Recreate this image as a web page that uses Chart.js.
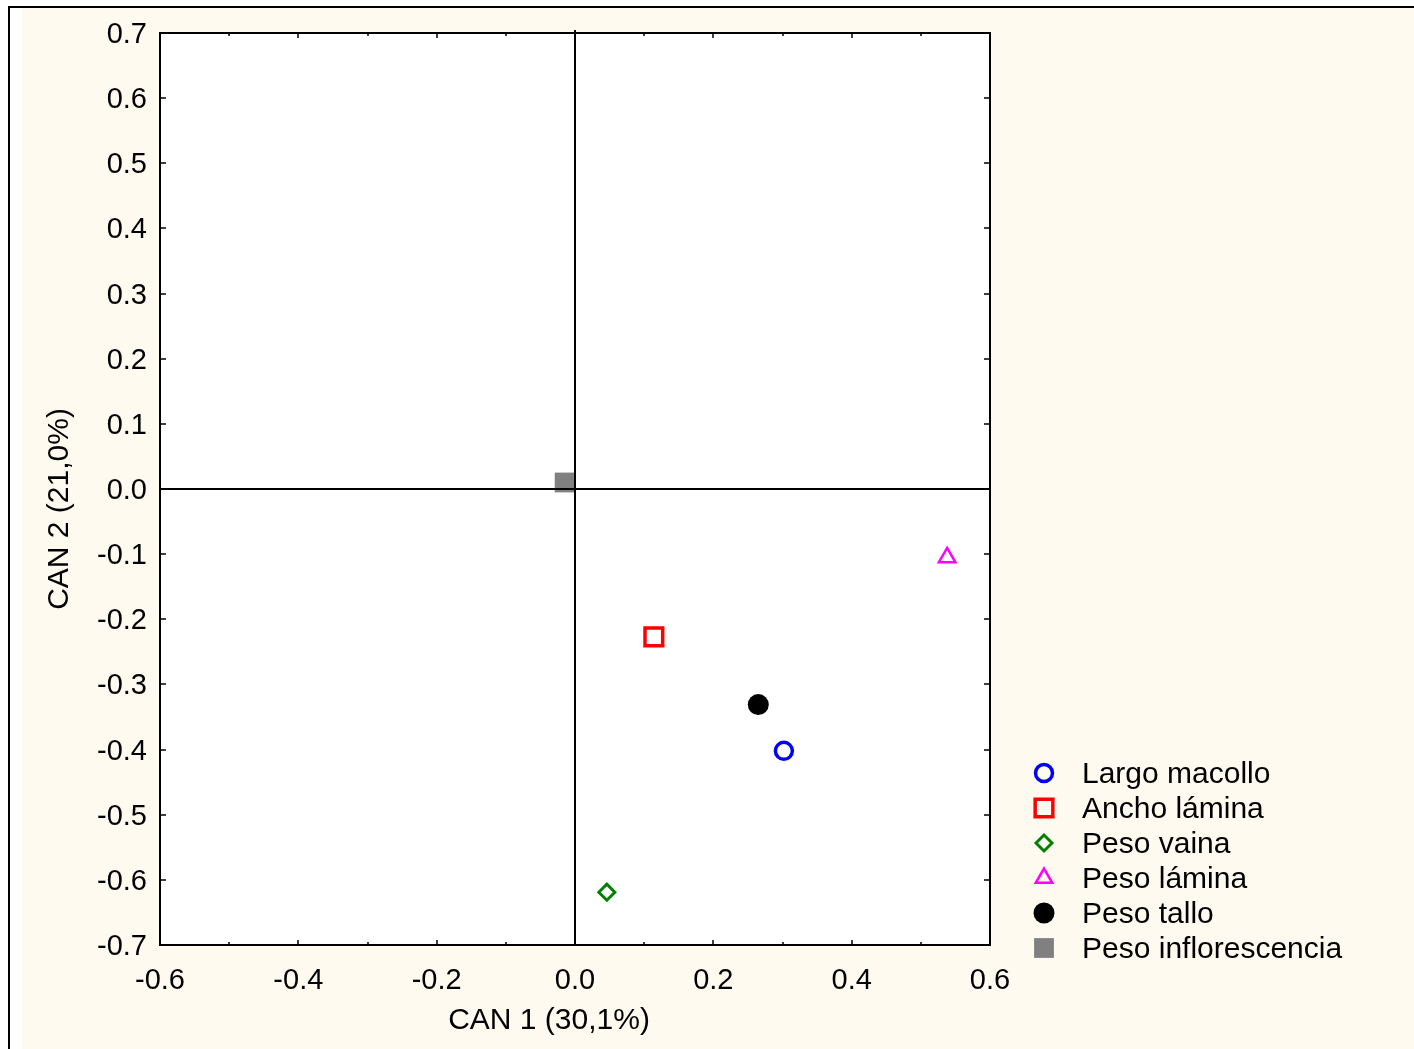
<!DOCTYPE html>
<html>
<head>
<meta charset="utf-8">
<script src="https://cdn.jsdelivr.net/npm/chart.js@4/dist/chart.umd.min.js"></script>
<style>
  html, body { margin: 0; padding: 0; background: #ffffff; }
  #wrap { width: 1414px; height: 1049px; }
</style>
</head>
<body>
<div id="wrap"><canvas id="canChart" width="1414" height="1049"></canvas></div>
<script>
// variables and their canonical scores (CAN 1, CAN 2)
const seriesNames = ['Largo macollo', 'Ancho lámina', 'Peso vaina', 'Peso lámina', 'Peso tallo', 'Peso inflorescencia'];
const can1Values = [0.302, 0.114, 0.046, 0.538, 0.265, -0.015];
const can2Values = [-0.402, -0.227, -0.619, -0.105, -0.331, 0.010];
const xTitle = 'CAN 1 (30,1%)';
const yTitle = 'CAN 2 (21,0%)';

// marker look for each variable
const markerStyles = [
    { style: 'circle',   radius: 8.5,  fill: 'rgba(0,0,0,0)', stroke: '#0000ff', width: 3.5 },
    { style: 'rect',     radius: 12.5, fill: 'rgba(0,0,0,0)', stroke: '#ff0000', width: 3.5 },
    { style: 'rectRot',  radius: 8,    fill: 'rgba(0,0,0,0)', stroke: '#008000', width: 3 },
    { style: 'triangle', radius: 9.5,  fill: 'rgba(0,0,0,0)', stroke: '#ff00ff', width: 2.5 },
    { style: 'circle',   radius: 10.5, fill: '#000000',       stroke: '#000000', width: 0 },
    { style: 'rect',     radius: 14,   fill: '#808080',       stroke: '#808080', width: 0 }
];

const fontFamily = '"Liberation Sans", Arial, sans-serif';
Chart.defaults.font.family = fontFamily;
Chart.defaults.color = '#000000';

const datasets = seriesNames.map((name, i) => ({
    label: name,
    data: [{ x: can1Values[i], y: can2Values[i] }],
    pointStyle: markerStyles[i].style,
    pointRadius: markerStyles[i].radius,
    pointHoverRadius: markerStyles[i].radius,
    backgroundColor: markerStyles[i].fill,
    borderColor: markerStyles[i].stroke,
    pointBorderWidth: markerStyles[i].width,
    borderWidth: markerStyles[i].width
}));

// page background, outer frame, plot box, inward ticks, zero lines, titles, legend
const decorPlugin = {
    id: 'decor',
    beforeDraw(chart) {
        const ctx = chart.ctx;
        const a = chart.chartArea;
        ctx.save();
        ctx.fillStyle = '#ffffff';
        ctx.fillRect(0, 0, chart.width, chart.height);
        ctx.fillStyle = '#fefaef';
        ctx.fillRect(22, 8, chart.width - 22, chart.height - 8);
        ctx.fillStyle = '#000000';
        ctx.fillRect(8, 6, chart.width - 8, 2);
        ctx.fillRect(8, 6, 2, chart.height - 6);
        ctx.fillStyle = '#ffffff';
        ctx.fillRect(a.left, a.top, a.right - a.left, a.bottom - a.top);
        ctx.restore();
    },
    afterDatasetsDraw(chart) {
        const ctx = chart.ctx;
        const a = chart.chartArea;
        const xs = chart.scales.x, ys = chart.scales.y;
        ctx.save();
        ctx.strokeStyle = '#000000';
        ctx.lineWidth = 2;
        // zero lines
        const x0 = Math.round(xs.getPixelForValue(0));
        const y0 = Math.round(ys.getPixelForValue(0));
        ctx.beginPath();
        ctx.moveTo(x0, a.top - 3); ctx.lineTo(x0, a.bottom);
        ctx.moveTo(a.left, y0); ctx.lineTo(a.right, y0);
        ctx.stroke();
        // box
        ctx.strokeRect(a.left, a.top, a.right - a.left, a.bottom - a.top);
        // inward ticks
        ctx.lineWidth = 1.5;
        ctx.beginPath();
        for (let k = -6; k <= 6; k++) {
            const px = Math.round(xs.getPixelForValue(k / 10));
            const len = (k % 2 === 0) ? 5 : 3;
            ctx.moveTo(px, a.bottom); ctx.lineTo(px, a.bottom - len);
            ctx.moveTo(px, a.top); ctx.lineTo(px, a.top + len);
        }
        for (let k = -7; k <= 7; k++) {
            const py = Math.round(ys.getPixelForValue(k / 10));
            ctx.moveTo(a.left, py); ctx.lineTo(a.left + 6, py);
            ctx.moveTo(a.right, py); ctx.lineTo(a.right - 6, py);
        }
        ctx.stroke();

        // axis titles
        ctx.fillStyle = '#000000';
        ctx.font = '30px ' + fontFamily;
        ctx.textAlign = 'center';
        ctx.textBaseline = 'middle';
        ctx.fillText(xTitle, 549, 1021);
        ctx.save();
        ctx.translate(60, 509);
        ctx.rotate(-Math.PI / 2);
        ctx.fillText(yTitle, 0, 0);
        ctx.restore();

        // legend
        const lx = 1044, tx = 1082, ly0 = 773, dy = 35;
        seriesNames.forEach((name, i) => {
            const m = markerStyles[i];
            const y = ly0 + i * dy;
            ctx.fillStyle = m.fill;
            ctx.strokeStyle = m.stroke;
            ctx.lineWidth = m.width;
            Chart.helpers.drawPoint(ctx, { pointStyle: m.style, radius: m.radius, rotation: 0, borderWidth: m.width }, lx, y);
            ctx.fillStyle = '#000000';
            ctx.textAlign = 'left';
            ctx.textBaseline = 'middle';
            ctx.font = '30px ' + fontFamily;
            ctx.fillText(name, tx, y + 2);
        });
        ctx.restore();
    }
};

const ctx = document.getElementById('canChart').getContext('2d');
const canChart = new Chart(ctx, {
    type: 'scatter',
    data: { datasets: datasets },
    options: {
        responsive: false,
        animation: false,
        events: [],
        layout: { padding: { left: 0, top: 33, right: 424, bottom: 0 } },
        plugins: {
            legend: { display: false },
            tooltip: { enabled: false }
        },
        scales: {
            x: {
                type: 'linear',
                min: -0.6,
                max: 0.6,
                afterFit: scale => { scale.height = 104; },
                grid: { drawOnChartArea: false, drawTicks: false },
                border: { display: false },
                ticks: {
                    stepSize: 0.2,
                    padding: 19,
                    font: { size: 29 },
                    color: '#000000',
                    maxRotation: 0,
                    callback: v => v.toFixed(1)
                }
            },
            y: {
                type: 'linear',
                min: -0.7,
                max: 0.7,
                afterFit: scale => { scale.width = 160; },
                grid: { drawOnChartArea: false, drawTicks: false },
                border: { display: false },
                ticks: {
                    stepSize: 0.1,
                    padding: 13,
                    labelOffset: 2,
                    font: { size: 29 },
                    color: '#000000',
                    callback: v => v.toFixed(1)
                }
            }
        }
    },
    plugins: [decorPlugin]
});
</script>
</body>
</html>
